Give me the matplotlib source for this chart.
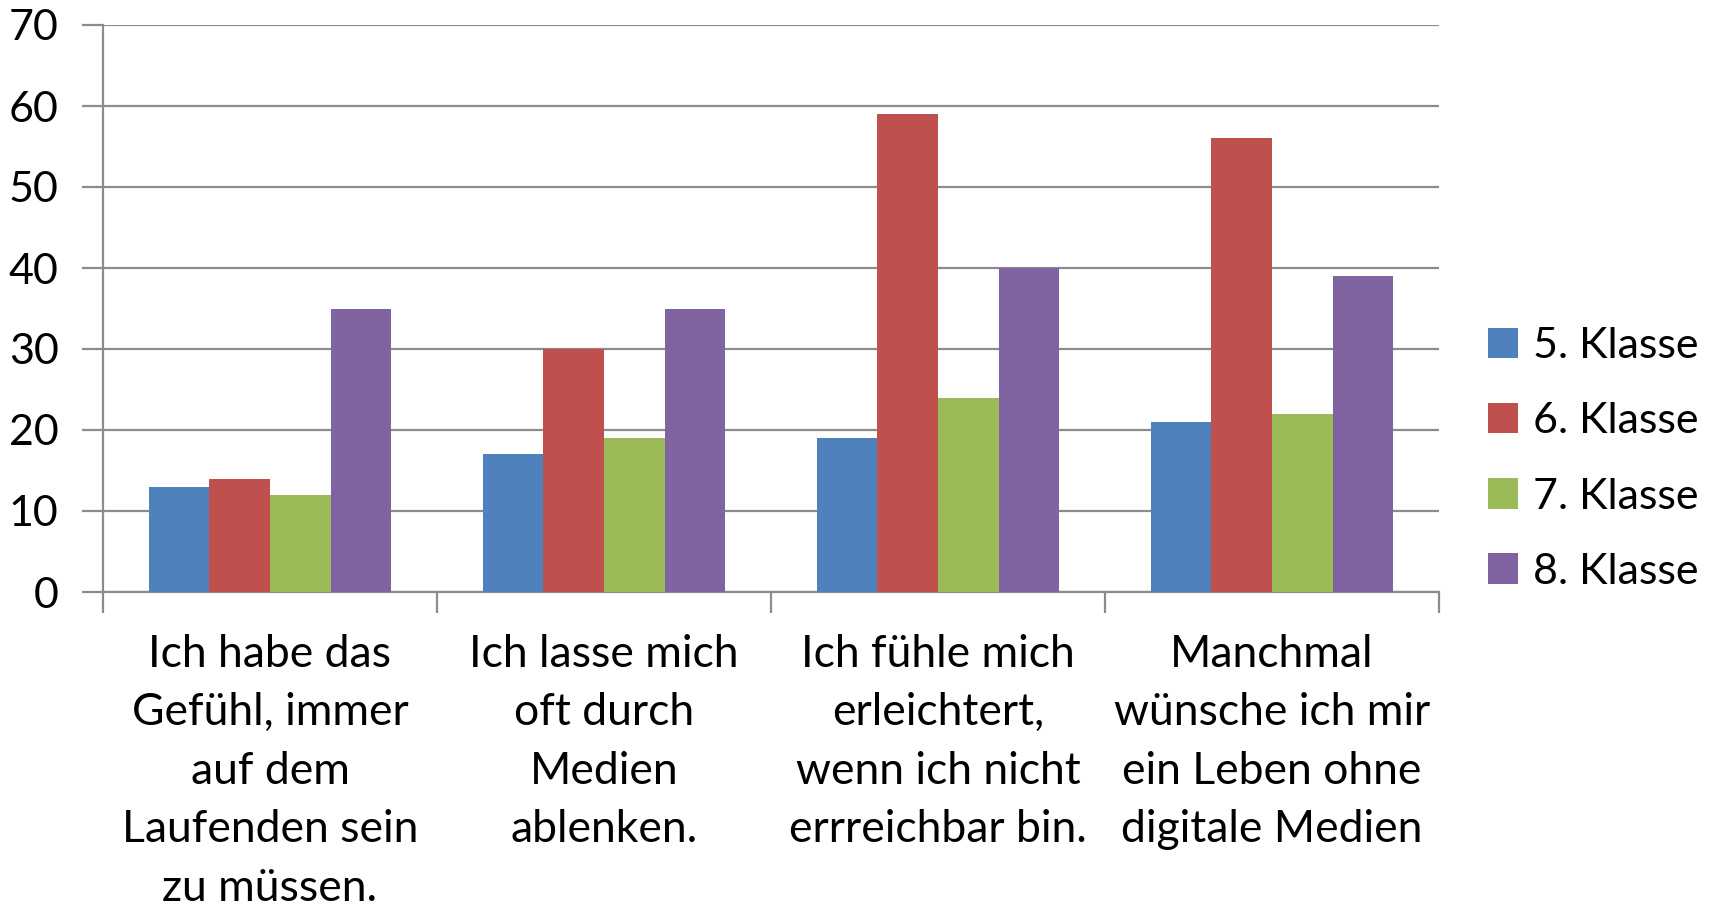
import matplotlib.pyplot as plt
import numpy as np
from matplotlib.patches import Patch

categories = [
    "Ich habe das\nGefühl, immer\nauf dem\nLaufenden sein\nzu müssen.",
    "Ich lasse mich\noft durch\nMedien\nablenken.",
    "Ich fühle mich\nerleichtert,\nwenn ich nicht\nerrreichbar bin.",
    "Manchmal\nwünsche ich mir\nein Leben ohne\ndigitale Medien",
]
series_names = ["5. Klasse", "6. Klasse", "7. Klasse", "8. Klasse"]
klasse5 = [13, 17, 19, 21]
klasse6 = [14, 30, 59, 56]
klasse7 = [12, 19, 24, 22]
klasse8 = [35, 35, 40, 39]
colors = ["#4F81BD", "#C0504D", "#9BBB59", "#8064A2"]

plt.rcParams['font.family'] = ['Lato', 'DejaVu Sans']

fig = plt.figure(figsize=(17.09, 9.07), dpi=100)
ax = fig.add_axes([103 / 1709, 1 - 592 / 907, (1439 - 103) / 1709, (592 - 25) / 907])

grid_col = "#8c8c8c"
n = len(categories)
w = 1 / 5.5
x = np.arange(n)
for i, vals in enumerate([klasse5, klasse6, klasse7, klasse8]):
    ax.bar(x + (i - 1.5) * w, vals, width=w, color=colors[i], zorder=3)

ax.set_xlim(-0.5, n - 0.5)
ax.set_ylim(0, 70)
ax.set_yticks(range(0, 71, 10))
ax.yaxis.grid(True, color=grid_col, linewidth=1.6, zorder=0)
ax.tick_params(axis='y', length=15, width=1.6, color=grid_col, labelsize=31, pad=17)

ax.set_xticks(x)
ax.set_xticklabels(categories, fontsize=32, linespacing=1.53, va='top')
ax.set_xticks(np.arange(-0.5, n, 1), minor=True)
ax.tick_params(axis='x', which='major', length=0, pad=30)
ax.tick_params(axis='x', which='minor', length=15, width=1.6, color=grid_col)

for s in ['top', 'right']:
    ax.spines[s].set_visible(False)
for s in ['left', 'bottom']:
    ax.spines[s].set_color(grid_col)
    ax.spines[s].set_linewidth(1.6)

handles = [Patch(facecolor=c, edgecolor='none') for c in colors]
leg = fig.legend(handles, series_names, loc='center left',
                 bbox_to_anchor=(1466 / 1709, 1 - 459 / 907),
                 frameon=False, fontsize=31, handlelength=0.7, handleheight=0.7,
                 handletextpad=0.35, labelspacing=0.86, borderpad=0)

fig.savefig("out.png", dpi=100)
